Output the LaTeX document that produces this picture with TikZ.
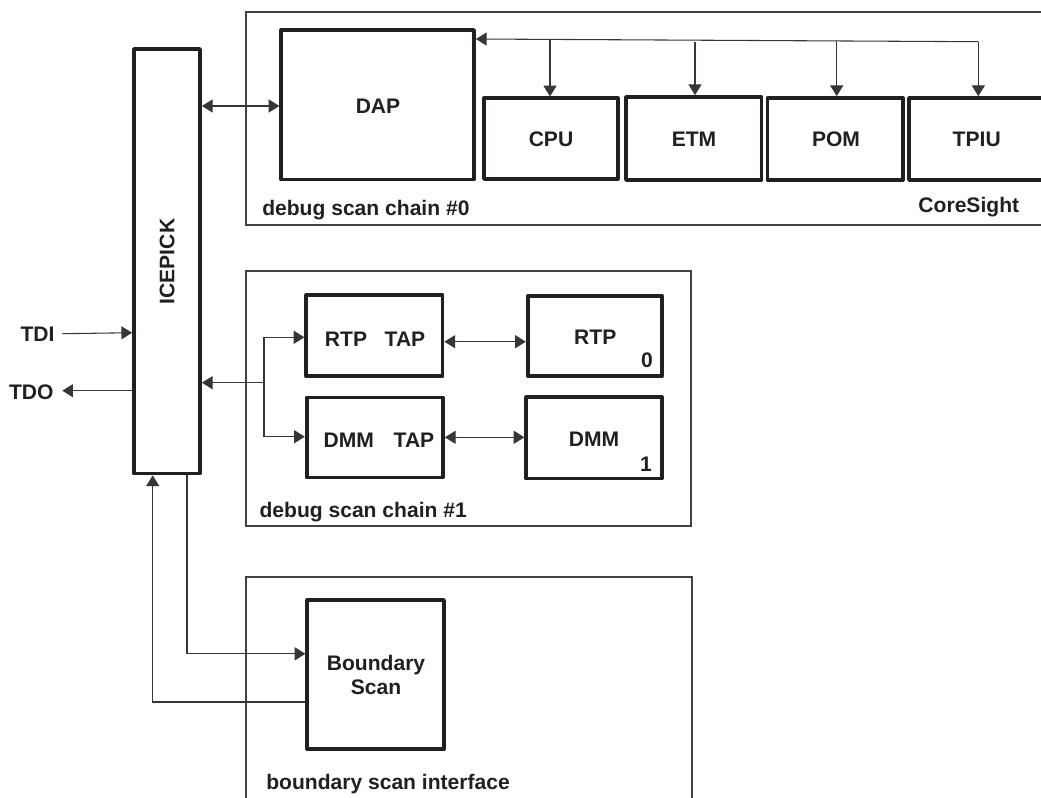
\documentclass[tikz,border=0pt]{standalone}
\usepackage{fontspec}
\setmainfont{Liberation Sans}
\usetikzlibrary{arrows.meta}
\definecolor{ink}{HTML}{231F20}
\tikzset{
  txt/.style={font=\fontsize{15.8pt}{18pt}\selectfont\bfseries, text=ink, inner sep=0pt, anchor=base},
  panel/.style={draw=ink!85, line width=0.8pt, fill=none, outer sep=0pt},
  blk/.style={draw=ink, line width=2.85pt, line join=round, fill=none, inner sep=0pt},
  wire/.style={draw=ink!90, line width=0.8pt},
  tip/.style={-{Triangle[length=8pt,width=9.75pt]}},
  tips/.style={{Triangle[length=8pt,width=9.75pt]}-{Triangle[length=8pt,width=9.75pt]}},
}
\newcommand{\blkat}[5]{\node[blk, minimum width=#4*0.75pt-#2*0.75pt, minimum height=#5*0.75pt-#3*0.75pt] (#1) at ({(#2+#4)/2},{(#3+#5)/2}) {};}
\begin{document}
\begin{tikzpicture}[x=0.75pt,y=-0.75pt]
\useasboundingbox (0,0) rectangle (1041,797);
\clip (0,0) rectangle (1041,797);
% panels
\node[panel, minimum width=805*0.75pt, minimum height=213*0.75pt] (p0) at (648.5,118.5) {};
\node[panel, minimum width=445*0.75pt, minimum height=255*0.75pt] (p1) at (468.5,398.5) {};
\node[panel, minimum width=446*0.75pt, minimum height=240*0.75pt] (p2) at (469,697) {};
% blocks
\blkat{ice}{134}{49}{200}{473.5}
\blkat{dap}{281.3}{30}{474}{179.5}
\blkat{cpu}{484}{98.3}{617.7}{179}
\blkat{etm}{626}{97}{761.5}{180}
\blkat{pom}{767.5}{98}{902.7}{180}
\blkat{tpiu}{909}{98}{1060}{180}
\blkat{rtpt}{306.3}{295}{442.5}{376.3}
\blkat{rtp}{527.7}{296.3}{662.3}{376}
\blkat{dmmt}{306.7}{397.5}{443}{477.5}
\blkat{dmm}{526.3}{397.3}{661.7}{478.5}
\blkat{bs}{307.3}{600}{444}{749}
% texts
\node[txt, anchor=center, rotate=90] (ticepick) at (167,261.5) {ICEPICK};
\node[txt] (tdap) at (378,113.5) {DAP};
\node[txt] (tcpu) at (551,146) {CPU};
\node[txt] (tetm) at (694,146) {ETM};
\node[txt] (tpom) at (836,146) {POM};
\node[txt] (ttpiu) at (976.7,146) {TPIU};
\node[txt] (tcs) at (968.8,212.7) {CoreSight};
\node[txt, anchor=base west] (tc0) at (262,215) {debug scan chain \#0};
\node[txt] (trtp1) at (346,346.7) {RTP};
\node[txt] (ttap1) at (405,346.7) {TAP};
\node[txt] (trtp) at (595.3,344) {RTP};
\node[txt] (t0) at (647,367.7) {0};
\node[txt] (tdmm1) at (348.7,447.3) {DMM};
\node[txt] (ttap2) at (414,447.3) {TAP};
\node[txt] (tdmm) at (594,446) {DMM};
\node[txt] (t1) at (646,471) {1};
\node[txt, anchor=base west] (tc1) at (259.3,517.3) {debug scan chain \#1};
\node[txt] (tb) at (376,670) {Boundary};
\node[txt] (ts) at (376,694) {Scan};
\node[txt, anchor=base west] (tbi) at (266,789.3) {boundary scan interface};
\node[txt] (tdi) at (37.5,341.7) {TDI};
\node[txt] (tdo) at (31.3,399) {TDO};
% connectors
\coordinate (busr) at (978.3,41.7);
\coordinate (cpuj) at (550,39.4);
\coordinate (etmj) at (695,42);
\coordinate (pomj) at (836.7,41);
\coordinate (tdia) at (62.3,333.7);
\coordinate (tdob) at (62.3,390.7);
\coordinate (trunk) at (264,382.7);
\draw[wire,tips] (ice.east |- 0,106) -- (dap.west |- 0,106);
\draw[wire,tip] (busr) -- (dap.east |- 0,39);
\draw[wire,tip] (cpuj) -- (cpuj |- cpu.north);
\draw[wire,tip] (etmj) -- (etmj |- etm.north);
\draw[wire,tip] (pomj) -- (pomj |- pom.north);
\draw[wire,tip] (busr) -- (busr |- tpiu.north);
\draw[wire,tip] (tdia) -- (ice.west |- 0,332.7);
\draw[wire,tip] (ice.west |- tdob) -- (tdob);
\draw[wire,tip] (trunk) -- (ice.east |- trunk);
\draw[wire,tip] (trunk) |- (rtpt.west |- 0,337.3);
\draw[wire,tip] (trunk) |- (dmmt.west |- 0,436.7);
\draw[wire,tips] (rtpt.east |- 0,341.7) -- (rtp.west |- 0,341.7);
\draw[wire,tips] (dmmt.east |- 0,437.3) -- (dmm.west |- 0,437.3);
\coordinate (upw) at (152.7,702);
\coordinate (dnw) at (187,653.8);
\draw[wire,tip] (bs.west |- upw) -- (upw) -- (upw |- ice.south);
\draw[wire,tip] (dnw |- ice.south) -- (dnw) -- (bs.west |- dnw);
\end{tikzpicture}
\end{document}
